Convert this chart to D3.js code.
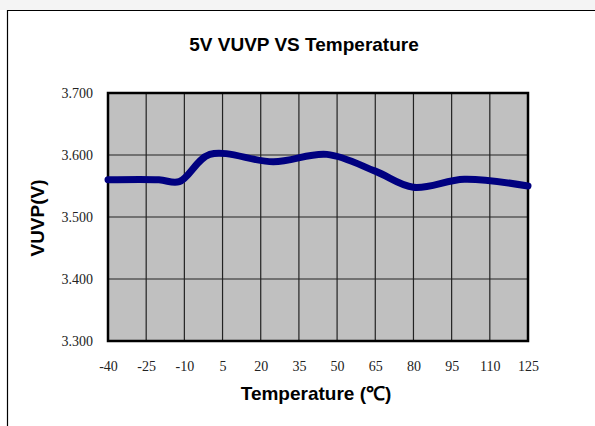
<!DOCTYPE html>
<html>
<head>
<meta charset="utf-8">
<script src="https://cdn.jsdelivr.net/npm/d3@7.9.0/dist/d3.min.js"></script>
<style>
  body { margin: 0; background: #fff; }
  svg { display: block; }
</style>
</head>
<body>
<svg id="chart"></svg>
<script>
const temps = [-40, -20, -12, 0, 25, 46, 65, 80, 100, 125];
const vuvp = [3.560, 3.560, 3.557, 3.601, 3.589, 3.601, 3.574, 3.548, 3.561, 3.550];

const xTicks = [-40, -25, -10, 5, 20, 35, 50, 65, 80, 95, 110, 125];
const yTicks = [3.3, 3.4, 3.5, 3.6, 3.7];

const W = 595, H = 426;
const plot = { left: 108, right: 528, top: 93, bottom: 341 };

const svg = d3.select("#chart")
    .attr("width", W)
    .attr("height", H);

// Page background strip and outer frame
svg.append("rect")
    .attr("x", 0).attr("y", 0)
    .attr("width", W).attr("height", 10)
    .attr("fill", "#f4f4f4");

svg.append("path")
    .attr("d", `M7.5,${H + 5}V10.5H${W + 5}`)
    .attr("fill", "none")
    .attr("stroke", "#000")
    .attr("stroke-width", 1.2);

const x = d3.scaleLinear()
    .domain([-40, 125])
    .range([plot.left, plot.right]);

const y = d3.scaleLinear()
    .domain([3.3, 3.7])
    .range([plot.bottom, plot.top]);

// Plot area
svg.append("rect")
    .attr("x", plot.left)
    .attr("y", plot.top)
    .attr("width", plot.right - plot.left)
    .attr("height", plot.bottom - plot.top)
    .attr("fill", "#c0c0c0");

// Gridlines
svg.append("g")
    .selectAll("line")
    .data(xTicks.slice(1, -1))
    .enter()
    .append("line")
    .attr("x1", d => x(d)).attr("x2", d => x(d))
    .attr("y1", plot.top).attr("y2", plot.bottom)
    .attr("stroke", "#222")
    .attr("stroke-width", 1.2);

svg.append("g")
    .selectAll("line")
    .data(yTicks.slice(1, -1))
    .enter()
    .append("line")
    .attr("x1", plot.left).attr("x2", plot.right)
    .attr("y1", d => y(d)).attr("y2", d => y(d))
    .attr("stroke", "#222")
    .attr("stroke-width", 1.2);

// Plot border
svg.append("rect")
    .attr("x", plot.left)
    .attr("y", plot.top)
    .attr("width", plot.right - plot.left)
    .attr("height", plot.bottom - plot.top)
    .attr("fill", "none")
    .attr("stroke", "#000")
    .attr("stroke-width", 2.5);

// Axes (labels only)
const xAxis = svg.append("g")
    .attr("transform", `translate(0,${plot.bottom})`)
    .call(d3.axisBottom(x).tickValues(xTicks).tickFormat(d => String(d)).tickSize(0).tickPadding(20));

const yAxis = svg.append("g")
    .attr("transform", `translate(${plot.left},0)`)
    .call(d3.axisLeft(y).tickValues(yTicks).tickFormat(d3.format(".3f")).tickSize(0).tickPadding(15));

[xAxis, yAxis].forEach(a => {
    a.select(".domain").remove();
    a.selectAll("text")
        .style("font-family", "'Liberation Serif', 'Times New Roman', serif")
        .style("font-size", "14px")
        .attr("fill", "#222");
});

// Curve
const line = d3.line()
    .x((d, i) => x(temps[i]))
    .y(d => y(d))
    .curve(d3.curveCatmullRom.alpha(0.5));

svg.append("path")
    .datum(vuvp)
    .attr("d", line)
    .attr("fill", "none")
    .attr("stroke", "#000080")
    .attr("stroke-width", 7)
    .attr("stroke-linecap", "round")
    .attr("stroke-linejoin", "round");

// Title
svg.append("text")
    .attr("x", 304)
    .attr("y", 51)
    .attr("text-anchor", "middle")
    .style("font-family", "'Liberation Sans', Arial, sans-serif")
    .style("font-size", "19px")
    .style("font-weight", "bold")
    .text("5V VUVP VS Temperature");

// X-axis label
svg.append("text")
    .attr("x", 316)
    .attr("y", 400)
    .attr("text-anchor", "middle")
    .style("font-family", "'Liberation Sans', Arial, sans-serif")
    .style("font-size", "19px")
    .style("font-weight", "bold")
    .text("Temperature (℃)");

// Y-axis label
svg.append("text")
    .attr("transform", "rotate(-90)")
    .attr("x", -218)
    .attr("y", 44)
    .attr("text-anchor", "middle")
    .style("font-family", "'Liberation Sans', Arial, sans-serif")
    .style("font-size", "19px")
    .style("font-weight", "bold")
    .text("VUVP(V)");
</script>
</body>
</html>
